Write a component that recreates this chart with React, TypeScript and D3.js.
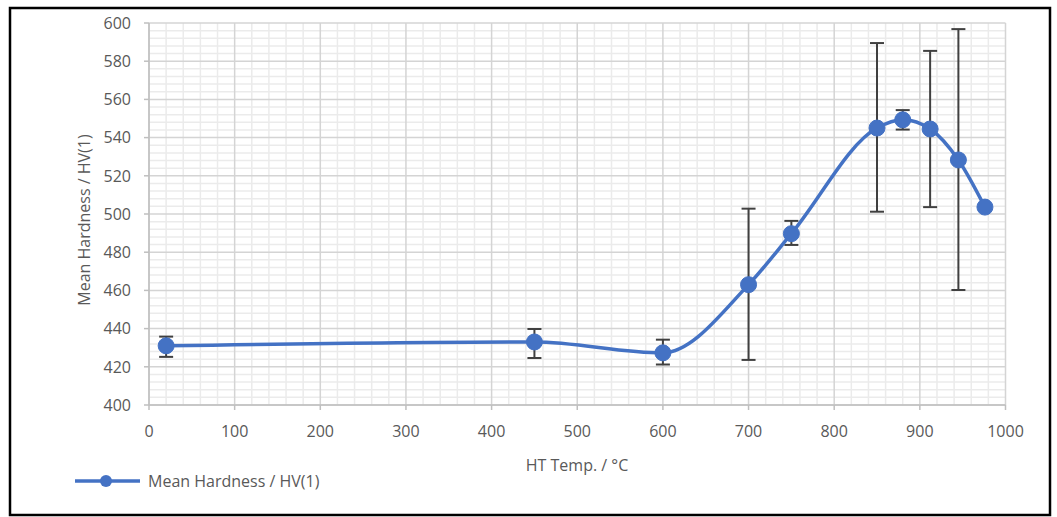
import React from "react";
import * as d3 from "d3";

const temps = [20, 450, 600, 700, 750, 850, 880, 912, 945, 976];
const hardness = [431, 433, 427.3, 463, 489.7, 545, 549.3, 544.5, 528.3, 503.6];
const errLow = [425.2, 424.6, 421.2, 423.6, 483.8, 501.2, 544.2, 503.6, 460.2, 503.6];
const errHigh = [435.8, 439.8, 434.2, 502.8, 496.4, 589.5, 554.4, 585.4, 596.8, 503.6];
const xTicks = [0, 100, 200, 300, 400, 500, 600, 700, 800, 900, 1000];
const yTicks = [400, 420, 440, 460, 480, 500, 520, 540, 560, 580, 600];
const seriesName = "Mean Hardness / HV(1)";
const xTitle = "HT Temp. / °C";
const yTitle = "Mean Hardness / HV(1)";

export default function App() {
  const W = 1057, H = 517;
  const left = 149, right = 1005.5, top = 23, bottom = 405;
  const x = d3.scaleLinear().domain([0, 1000]).range([left, right]);
  const y = d3.scaleLinear().domain([400, 600]).range([bottom, top]);
  const blue = "#4472C4";
  const font = "'Open Sans', 'Noto Sans', sans-serif";
  const txt = "#595959";
  const fs = 16;

  const minorX = d3.range(0, 1001, 20).filter((v) => v % 100 !== 0);
  const minorY = d3.range(400, 601, 4).filter((v) => v % 20 !== 0);

  const pts: [number, number][] = temps.map((t, i) => [x(t), y(hardness[i])]);
  const line = d3.line().curve(d3.curveMonotoneX)(pts) || "";

  return (
    <svg width={W} height={H} style={{ position: "absolute", left: 0, top: 0, background: "#fff" }}>
      <rect x={10} y={8} width={1040} height={507} fill="#fff" stroke="#000" strokeWidth={2.5} />
      {minorX.map((v) => (
        <line key={"mx" + v} x1={x(v)} x2={x(v)} y1={top} y2={bottom} stroke="#ebebeb" strokeWidth={1.5} />
      ))}
      {minorY.map((v) => (
        <line key={"my" + v} x1={left} x2={right} y1={y(v)} y2={y(v)} stroke="#ebebeb" strokeWidth={1.5} />
      ))}
      {xTicks.map((v) => (
        <line key={"gx" + v} x1={x(v)} x2={x(v)} y1={top} y2={bottom} stroke="#d4d4d4" strokeWidth={1.5} />
      ))}
      {yTicks.map((v) => (
        <line key={"gy" + v} x1={left} x2={right} y1={y(v)} y2={y(v)} stroke="#d4d4d4" strokeWidth={1.5} />
      ))}
      <line x1={left} x2={left} y1={top} y2={bottom} stroke="#bfbfbf" strokeWidth={1.5} />
      <line x1={left} x2={right} y1={bottom} y2={bottom} stroke="#bfbfbf" strokeWidth={1.5} />
      {yTicks.map((v) => (
        <g key={"ty" + v}>
          <line x1={left - 5} x2={left} y1={y(v)} y2={y(v)} stroke="#bfbfbf" strokeWidth={1.5} />
          <text x={131} y={y(v)} dy="0.36em" textAnchor="end" fontFamily={font} fontSize={fs} fill={txt}>
            {v}
          </text>
        </g>
      ))}
      {xTicks.map((v) => (
        <g key={"tx" + v}>
          <line x1={x(v)} x2={x(v)} y1={bottom} y2={bottom + 5} stroke="#bfbfbf" strokeWidth={1.5} />
          <text x={x(v)} y={437} textAnchor="middle" fontFamily={font} fontSize={fs} fill={txt}>
            {v}
          </text>
        </g>
      ))}
      <text x={577} y={471} textAnchor="middle" fontFamily={font} fontSize={fs} fill={txt}>
        {xTitle}
      </text>
      <text
        transform={`translate(${90},${220}) rotate(-90)`}
        textAnchor="middle"
        fontFamily={font}
        fontSize={fs}
        fill={txt}
      >
        {yTitle}
      </text>
      {temps.map((t, i) =>
        errHigh[i] - errLow[i] > 0.5 ? (
          <g key={"e" + i} stroke="#404040" strokeWidth={2}>
            <line x1={x(t)} x2={x(t)} y1={y(errLow[i])} y2={y(errHigh[i])} />
            <line x1={x(t) - 7} x2={x(t) + 7} y1={y(errLow[i])} y2={y(errLow[i])} />
            <line x1={x(t) - 7} x2={x(t) + 7} y1={y(errHigh[i])} y2={y(errHigh[i])} />
          </g>
        ) : null
      )}
      <path d={line} fill="none" stroke={blue} strokeWidth={3.5} strokeLinejoin="round" />
      {pts.map((p, i) => (
        <circle key={"c" + i} cx={p[0]} cy={p[1]} r={8} fill={blue} stroke={blue} strokeWidth={1} />
      ))}
      <line x1={75} x2={140} y1={481} y2={481} stroke={blue} strokeWidth={3.5} />
      <circle cx={106} cy={481} r={6} fill={blue} />
      <text x={148} y={487} fontFamily={font} fontSize={fs} fill={txt}>
        {seriesName}
      </text>
    </svg>
  );
}
